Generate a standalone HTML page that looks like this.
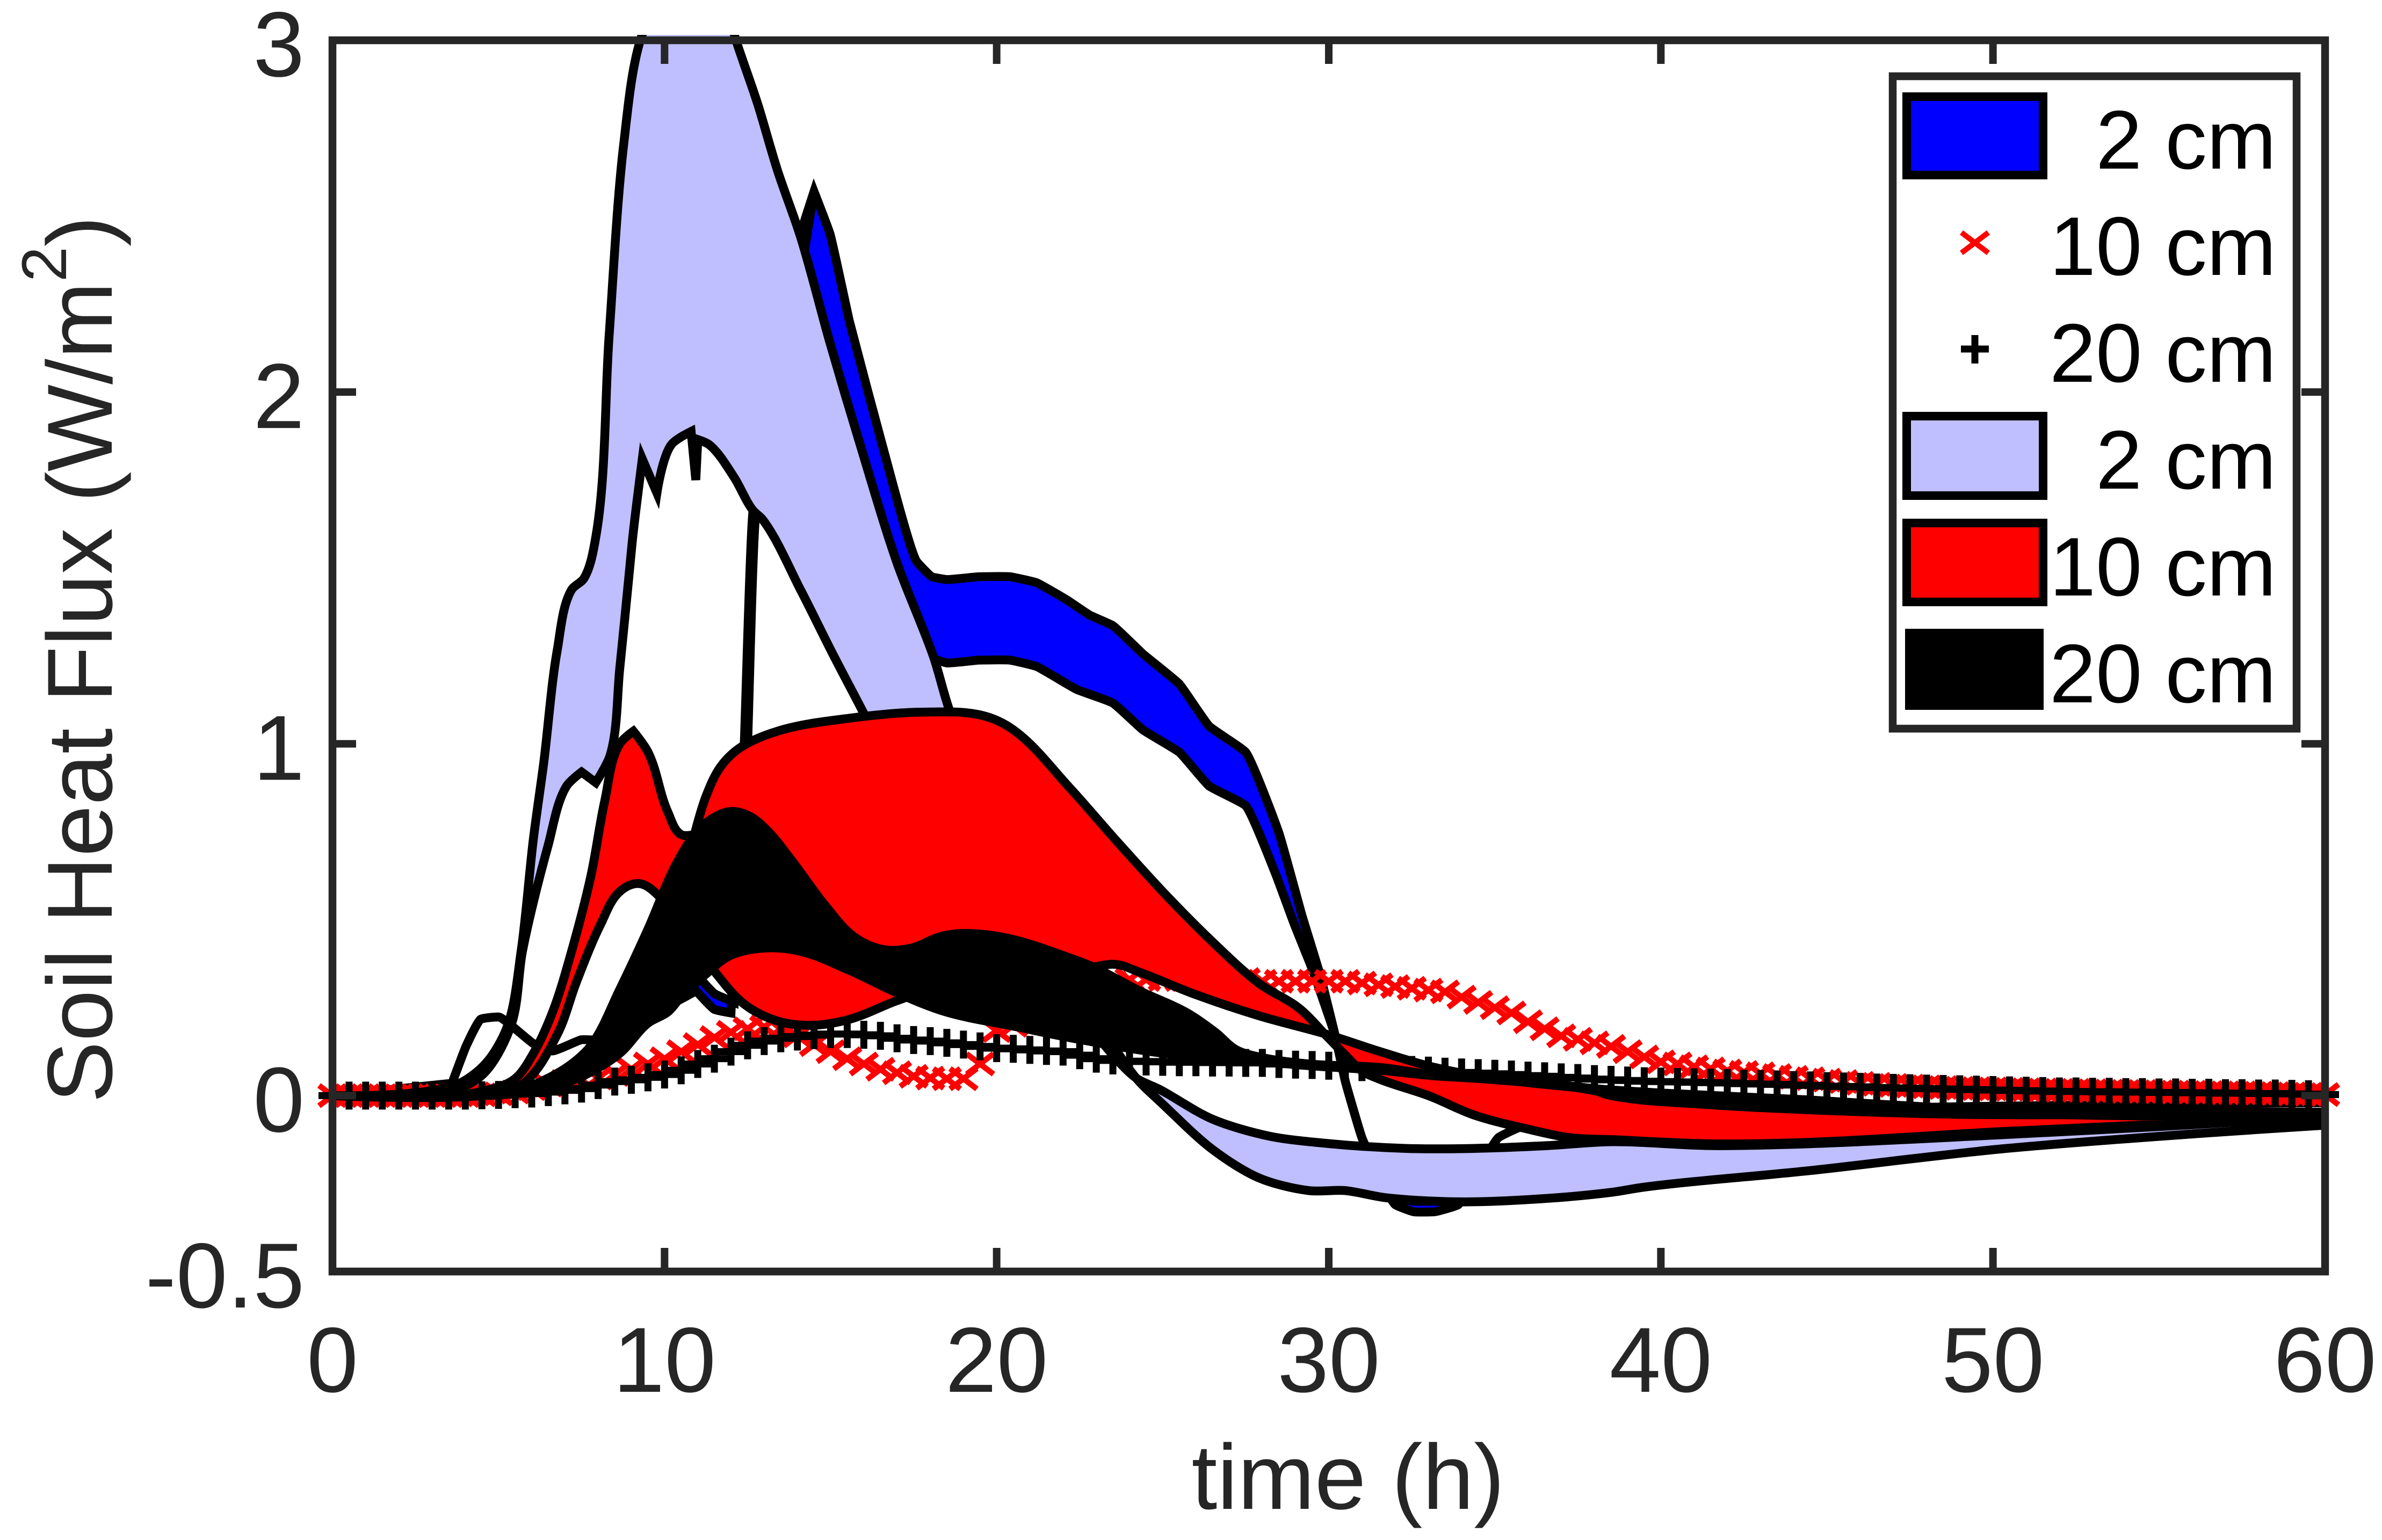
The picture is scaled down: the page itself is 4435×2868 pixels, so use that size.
<!DOCTYPE html>
<html>
<head>
<meta charset="utf-8">
<title>Soil Heat Flux</title>
<style>
html,body{margin:0;padding:0;background:#fff;}
svg{display:block;}
text{font-family:"Liberation Sans",Arial,sans-serif;}
</style>
</head>
<body>
<svg id="chart" xmlns="http://www.w3.org/2000/svg" width="4435" height="2868" viewBox="0 0 4435 2868">
  <defs>
    <clipPath id="plot-clip"><rect x="560" y="65" width="3769" height="2303"></rect></clipPath>
  </defs>
  <rect x="0" y="0" width="4435" height="2868" fill="#ffffff"></rect>
  <g id="band-blue-layer" clip-path="url(#plot-clip)"></g>
  <g id="markers-x"></g>
  <g id="markers-plus"></g>
  <g id="bands-top" clip-path="url(#plot-clip)"></g>
  <g id="axes"></g>
  <text x="2510" y="2810" font-size="172" fill="#262626" text-anchor="middle">time (h)</text>
  <text transform="translate(208,2054) rotate(-90)" font-size="172" fill="#262626">Soil Heat Flux (W/m<tspan dy="-85" font-size="118">2</tspan><tspan dy="85">)</tspan></text>
  <g>
    <rect x="3524" y="142" width="752" height="1215" fill="#ffffff" stroke="#262626" stroke-width="14.5"></rect>
    <rect x="3550" y="180" width="254" height="146" fill="#0000ff" stroke="#000" stroke-width="16"></rect>
    <path d="M3652 433L3702 471M3652 471L3702 433" fill="none" stroke="#ff0000" stroke-width="10"></path>
    <path d="M3651 650H3703M3677 624V677" fill="none" stroke="#000" stroke-width="13"></path>
    <rect x="3550" y="775" width="254" height="148" fill="#bfbfff" stroke="#000" stroke-width="16"></rect>
    <rect x="3550" y="974" width="254" height="147" fill="#ff0000" stroke="#000" stroke-width="16"></rect>
    <rect x="3547" y="1171" width="258" height="151" fill="#000"></rect>
    <text x="4238" y="314" font-size="155" text-anchor="end" fill="#000">2 cm</text>
    <text x="4238" y="512" font-size="155" text-anchor="end" fill="#000">10 cm</text>
    <text x="4238" y="711" font-size="155" text-anchor="end" fill="#000">20 cm</text>
    <text x="4238" y="910" font-size="155" text-anchor="end" fill="#000">2 cm</text>
    <text x="4238" y="1109" font-size="155" text-anchor="end" fill="#000">10 cm</text>
    <text x="4238" y="1308" font-size="155" text-anchor="end" fill="#000">20 cm</text>
  </g>
</svg>
<script>
const xTicks = [0, 10, 20, 30, 40, 50, 60];
const yTicks = [-0.5, 0, 1, 2, 3];
const yTickLabels = ["-0.5", "0", "1", "2", "3"];

const blueUpper = [[0,0],[3.6,.035],[4.03,.142],[4.46,.217],[5.03,.223],[6.05,.148],[6.63,.127],[7.5,.159],[7.9,.159],[8.6,.2],[9.5,.25],[10.4,.27],[10.95,.298],[11.5,.245],[12,.235],[12.4,1],[12.66,1.66],[14,2.42],[14.5,2.57],[14.98,2.45],[15.57,2.2],[16.64,1.82],[17.58,1.52],[18.05,1.475],[18.5,1.467],[19.46,1.475],[20.4,1.475],[21.2,1.458],[22.1,1.41],[22.8,1.366],[23.5,1.336],[24.4,1.256],[25.5,1.17],[26.4,1.05],[27.5,.976],[28.5,.746],[29.2,.51],[29.75,.34],[30.2,.168],[30.5,.04],[31,-.12],[31.6,-.24],[32,-.29],[32.55,-.3],[33.2,-.3],[33.9,-.29],[34.5,-.21],[35.1,-.12],[35.75,-.09],[37,-.075],[40,-.05],[50,-.03],[60,-.02]];
const blueLower = [[0,0],[3.6,.035],[4.03,.142],[4.46,.217],[5.03,.223],[6.05,.148],[6.63,.127],[7.5,.159],[7.9,.159],[8.6,.2],[9.5,.27],[10.4,.3],[10.95,.345],[11.5,.29],[12.1,.265],[12.5,1],[12.75,1.66],[13.6,2.05],[14.5,2.57],[14.1,2.42],[14.8,2.1],[15.7,1.75],[17,1.4],[18.1,1.243],[18.5,1.23],[19.46,1.238],[20.4,1.238],[21.2,1.22],[22.4,1.155],[23.5,1.116],[24.4,1.04],[25.5,.976],[26.4,.88],[27.5,.824],[28.4,.63],[28.95,.49],[29.5,.36],[30.2,.168],[30.5,.04],[31,-.12],[31.6,-.25],[32,-.31],[32.55,-.33],[33.2,-.33],[33.9,-.31],[34.5,-.22],[35.1,-.12],[35.75,-.09],[37,-.075],[40,-.05],[50,-.03],[60,-.02]];

const lightOuter = [[0,0],[3.7,.03],[4.6,.09],[5.26,.195],[5.68,.41],[6.05,.73],[6.36,.945],[6.77,1.267],[7.2,1.438],[7.57,1.47],[7.93,1.588],[8.33,2.16],[8.77,2.705],[9.27,3],[10.5,3.25],[11.5,3.2],[12.15,3],[12.8,2.82],[13.4,2.63],[14.1,2.44],[14.98,2.14],[15.9,1.847],[17,1.514],[18.1,1.247],[18.6,1.09],[19.5,.9],[21,.55],[22.5,.3],[24.2,.05],[25,-.024],[26.5,-.153],[27.9,-.234],[29.4,-.27],[30.5,-.27],[31.7,-.29],[34,-.302],[36.6,-.292],[38.5,-.275],[39.5,-.26],[44.4,-.214],[50.3,-.151],[56.3,-.107],[60,-.084]];
const lightInner = [[0,0],[3.9,.024],[4.6,.067],[5.4,.206],[5.72,.41],[6.49,.71],[7.05,.88],[7.5,.92],[7.93,.89],[8.36,.967],[8.65,1.214],[8.93,1.48],[9.05,1.595],[9.33,1.81],[9.77,1.713],[10.2,1.85],[10.8,1.888],[10.94,1.75],[11,1.865],[11.35,1.85],[12.08,1.76],[12.66,1.664],[12.95,1.638],[14.1,1.437],[15.04,1.26],[15.98,1.09],[17,.9],[19,.6],[21,.38],[23,.17],[24.2,.05],[24.9,.018],[26.5,-.067],[28.2,-.115],[29.95,-.136],[32.3,-.15],[34.4,-.15],[36.6,-.142],[38.5,-.131],[41.5,-.142],[44.4,-.137],[50.3,-.111],[55.2,-.087],[60,-.06]];

const redEdgeA = [[0,0],[3.5,0],[4.5,.012],[5.47,.046],[6.05,.12],[6.63,.238],[7.2,.41],[7.78,.624],[8.2,.838],[8.65,1],[9.06,1.036],[9.5,.977],[10.1,.806],[10.5,.742],[10.9,.742],[11.24,.849],[11.68,.934],[12.26,.988],[13.4,1.036],[15.57,1.073],[17.74,1.09],[19.6,1.08],[20.5,1.04],[22.2,.875],[23.6,.725],[25.05,.575],[26.5,.437],[27.9,.319],[29.1,.249],[29.95,.168],[30.5,.115],[31,.07],[31.55,.046],[33,0],[34.4,-.056],[35.9,-.093],[37.3,-.12],[38.5,-.125],[41.5,-.137],[44.4,-.133],[50.3,-.102],[56.6,-.075],[60,-.06]];
const redEdgeB = [[0,0],[4.5,0],[5.2,.012],[5.76,.035],[6.77,.174],[7.35,.324],[8.07,.486],[8.65,.58],[9.22,.603],[9.8,.57],[10.5,.47],[11.39,.366],[12.4,.26],[13.4,.212],[14.43,.2],[15.57,.217],[17,.27],[18,.3],[20,.31],[22,.355],[22.9,.366],[23.6,.373],[24.3,.351],[26,.287],[27.9,.227],[29.95,.174],[31.55,.125],[33.1,.082],[34.9,.05],[38,.018],[41,-.01],[44,-.03],[50,-.05],[56.6,-.06],[60,-.06]];

const blackUpper = [[0,0],[4.5,.002],[5.5,.012],[6.5,.05],[7.2,.09],[7.78,.142],[8.65,.302],[9.5,.473],[10.4,.667],[11.1,.763],[11.68,.8],[12.03,.808],[12.55,.795],[13.1,.753],[13.84,.667],[14.85,.539],[15.7,.452],[16.6,.415],[17.45,.42],[18.3,.452],[19,.461],[20.35,.447],[22.3,.388],[22.9,.366],[24.3,.298],[25.76,.234],[26.6,.179],[27.2,.131],[27.9,.11],[29.4,.09],[31.55,.08],[33.1,.06],[34.9,.052],[38,.02],[39.9,.008],[44.4,-.012],[48.9,-.037],[51,-.045],[58,-.047],[60,-.047]];
const blackLower = [[0,0],[5,.002],[6,.012],[7,.035],[7.78,.067],[8.65,.12],[9.5,.206],[10.1,.238],[10.5,.281],[11.24,.345],[11.97,.398],[13.1,.42],[14.14,.409],[15.57,.356],[17,.292],[18.47,.238],[20.64,.195],[22.3,.163],[25.05,.12],[27.2,.104],[29.4,.085],[31.55,.072],[33.1,.057],[34.9,.046],[38,.014],[38.5,0],[41.5,-.026],[44.4,-.04],[48.9,-.053],[56.6,-.053],[60,-.055]];

const markerHours = [0,.5,1,1.5,2,2.5,3,3.5,4,4.5,5,5.5,6,6.5,7,7.5,8,8.5,9,9.5,10,10.5,11,11.5,12,12.5,13,13.5,14,14.5,15,15.5,16,16.5,17,17.5,18,18.5,19,19.5,20,20.5,21,21.5,22,22.5,23,23.5,24,24.5,25,25.5,26,26.5,27,27.5,28,28.5,29,29.5,30,30.5,31,31.5,32,32.5,33,33.5,34,34.5,35,35.5,36,36.5,37,37.5,38,38.5,39,39.5,40,40.5,41,41.5,42,42.5,43,43.5,44,44.5,45,45.5,46,46.5,47,47.5,48,48.5,49,49.5,50,50.5,51,51.5,52,52.5,53,53.5,54,54.5,55,55.5,56,56.5,57,57.5,58,58.5,59,59.5,60];
const crossFlux = [0,0,0,0,0,0,0,0,0,.002,.005,.01,.02,.03,.04,.045,.05,.06,.075,.09,.105,.125,.145,.165,.18,.19,.195,.19,.17,.145,.125,.105,.09,.075,.065,.055,.05,.048,.048,.09,.185,.2,.23,.25,.27,.29,.31,.32,.33,.33,.33,.33,.33,.33,.33,.33,.325,.325,.325,.325,.325,.325,.32,.315,.31,.305,.3,.295,.28,.265,.25,.235,.21,.19,.17,.16,.15,.14,.125,.11,.096,.09,.082,.076,.07,.066,.062,.057,.052,.048,.044,.04,.035,.032,.029,.027,.025,.023,.021,.02,.019,.018,.017,.016,.015,.015,.014,.013,.012,.012,.011,.01,.01,.009,.008,.008,.007,.006,.005,.004,.003];
const plusFlux = [0,0,0,0,0,0,0,0,0,.001,.002,.004,.006,.01,.015,.02,.03,.04,.045,.052,.06,.072,.09,.105,.125,.143,.155,.163,.168,.172,.175,.175,.173,.17,.163,.158,.155,.15,.145,.14,.135,.133,.13,.127,.125,.115,.105,.1,.098,.097,.096,.095,.095,.094,.094,.093,.093,.09,.088,.087,.085,.083,.081,.079,.076,.073,.071,.068,.066,.064,.062,.06,.057,.055,.052,.05,.047,.045,.043,.041,.04,.039,.038,.037,.036,.034,.033,.032,.03,.029,.027,.026,.025,.023,.022,.021,.02,.019,.018,.017,.016,.015,.014,.013,.012,.012,.011,.011,.01,.01,.009,.009,.008,.008,.007,.007,.006,.006,.005,.004,.003];

const SVG_NS = 'http://www.w3.org/2000/svg';
const AXIS_COLOR = '#262626';
const plotLeft = 619, plotRight = 4329, plotTop = 75, plotBottom = 2368;
const xMin = 0, xMax = 60, yMin = -0.5, yMax = 3;

function xScale(t) { return plotLeft + (t - xMin) / (xMax - xMin) * (plotRight - plotLeft); }
function yScale(v) { return plotBottom - (v - yMin) / (yMax - yMin) * (plotBottom - plotTop); }

function make(tag, parent, attrs) {
  const el = document.createElementNS(SVG_NS, tag);
  for (const k in attrs) el.setAttribute(k, attrs[k]);
  parent.appendChild(el);
  return el;
}

/* Tangent at an interior vertex: zero length at sharp corners so kinks stay crisp. */
function tangent(pts, i) {
  if (i === 0 || i === pts.length - 1) return null;
  const a = pts[i - 1], b = pts[i], c = pts[i + 1];
  const ux = b[0] - a[0], uy = b[1] - a[1], vx = c[0] - b[0], vy = c[1] - b[1];
  const lu = Math.hypot(ux, uy) || 1, lv = Math.hypot(vx, vy) || 1;
  const cos = (ux * vx + uy * vy) / (lu * lv);
  if (cos < 0.5) return null;
  const tx = ux / lu + vx / lv, ty = uy / lu + vy / lv;
  const l = Math.hypot(tx, ty) || 1;
  return [tx / l, ty / l];
}

function smoothSegments(pts, tension) {
  let d = '';
  for (let i = 0; i < pts.length - 1; i++) {
    const p = pts[i], q = pts[i + 1];
    const seg = Math.hypot(q[0] - p[0], q[1] - p[1]) * tension;
    const tp = tangent(pts, i), tq = tangent(pts, i + 1);
    const c1 = tp ? [p[0] + tp[0] * seg, p[1] + tp[1] * seg] : p;
    const c2 = tq ? [q[0] - tq[0] * seg, q[1] - tq[1] * seg] : q;
    d += 'C' + c1[0].toFixed(1) + ' ' + c1[1].toFixed(1) + ' ' + c2[0].toFixed(1) + ' ' + c2[1].toFixed(1) + ' ' + q[0].toFixed(1) + ' ' + q[1].toFixed(1);
  }
  return d;
}

function toPixels(edge) {
  return edge.map(function (p) { return [xScale(p[0]), yScale(p[1])]; });
}

function bandPath(edgeA, edgeB, tension) {
  const a = toPixels(edgeA);
  const b = toPixels(edgeB).reverse();
  return 'M' + a[0][0].toFixed(1) + ' ' + a[0][1].toFixed(1) + smoothSegments(a, tension) +
    'L' + b[0][0].toFixed(1) + ' ' + b[0][1].toFixed(1) + smoothSegments(b, tension) + 'Z';
}

function drawBand(parent, edgeA, edgeB, fill, name, tension) {
  const el = make('path', parent, {
    d: bandPath(edgeA, edgeB, tension), fill: fill, stroke: '#000', 'stroke-width': 16.5,
    'stroke-linejoin': 'miter', 'stroke-miterlimit': 6, 'fill-rule': 'nonzero'
  });
  
  
}

drawBand(document.getElementById('band-blue-layer'), blueUpper, blueLower, '#0000ff', 'band-2cm-dark', 0.12);

const crossLayer = document.getElementById('markers-x');
markerHours.forEach(function (t, i) {
  const cx = xScale(t), cy = yScale(crossFlux[i]);
  const el = make('path', crossLayer, {
    d: 'M' + (cx - 25) + ' ' + (cy - 19) + 'L' + (cx + 25) + ' ' + (cy + 19) + 'M' + (cx - 25) + ' ' + (cy + 19) + 'L' + (cx + 25) + ' ' + (cy - 19),
    fill: 'none', stroke: '#ff0000', 'stroke-width': 10.5
  });
  
  
});

const plusLayer = document.getElementById('markers-plus');
markerHours.forEach(function (t, i) {
  const cx = xScale(t), cy = yScale(plusFlux[i]);
  const el = make('path', plusLayer, {
    d: 'M' + (cx - 26) + ' ' + cy + 'H' + (cx + 26) + 'M' + cx + ' ' + (cy - 26) + 'V' + (cy + 26),
    fill: 'none', stroke: '#000', 'stroke-width': 13
  });
  
  
});

const topBands = document.getElementById('bands-top');
drawBand(topBands, lightOuter, lightInner, '#bfbfff', 'band-2cm-light', 0.3);
drawBand(topBands, redEdgeA, redEdgeB, '#ff0000', 'band-10cm', 0.33);
drawBand(topBands, blackUpper, blackLower, '#000000', 'band-20cm', 0.33);

const axes = document.getElementById('axes');
const frame = make('rect', axes, {
  x: plotLeft, y: plotTop, width: plotRight - plotLeft, height: plotBottom - plotTop,
  fill: 'none', stroke: AXIS_COLOR, 'stroke-width': 14.5
});



xTicks.forEach(function (t) {
  const x = xScale(t);
  const bottomTick = make('line', axes, { x1: x, x2: x, y1: plotBottom, y2: plotBottom - 44, stroke: AXIS_COLOR, 'stroke-width': 14 });
  
  
  const topTick = make('line', axes, { x1: x, x2: x, y1: plotTop, y2: plotTop + 44, stroke: AXIS_COLOR, 'stroke-width': 14 });
  
  
  const label = make('text', axes, { x: x, y: 2592, 'font-size': 172, fill: AXIS_COLOR, 'text-anchor': 'middle' });
  label.textContent = String(t);
  
  
});

yTicks.forEach(function (v, i) {
  const y = yScale(v);
  const leftTick = make('line', axes, { x1: plotLeft, x2: plotLeft + 44, y1: y, y2: y, stroke: AXIS_COLOR, 'stroke-width': 14 });
  
  
  const rightTick = make('line', axes, { x1: plotRight, x2: plotRight - 44, y1: y, y2: y, stroke: AXIS_COLOR, 'stroke-width': 14 });
  
  
  const label = make('text', axes, { x: 567, y: y + 67, 'font-size': 172, fill: AXIS_COLOR, 'text-anchor': 'end' });
  label.textContent = yTickLabels[i];
  
  
});
</script>
</body>
</html>
